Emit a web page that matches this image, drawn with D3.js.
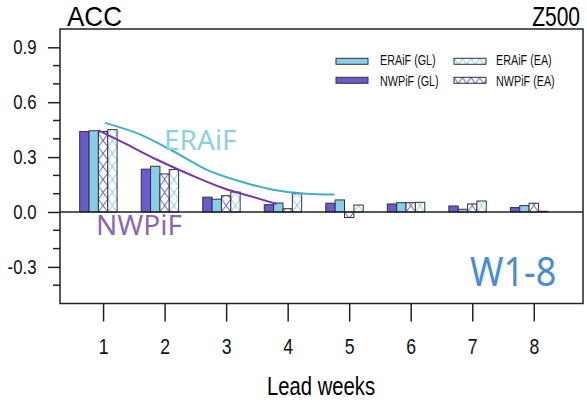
<!DOCTYPE html>
<html>
<head>
<meta charset="utf-8">
<script src="https://cdn.jsdelivr.net/npm/d3@7"></script>
<style>
  body { margin: 0; background: #fff; }
  svg { display: block; }
</style>
</head>
<body>
<svg id="chart" width="587" height="409"></svg>
<script>
// ---- data ----
var weeks = [1, 2, 3, 4, 5, 6, 7, 8];
var nwpGL = [0.44, 0.234, 0.081, 0.040, 0.048, 0.044, 0.033, 0.024];
var eraGL = [0.444, 0.250, 0.070, 0.049, 0.066, 0.051, 0.015, 0.035];
var nwpEA = [0.44, 0.208, 0.089, 0.018, -0.030, 0.051, 0.044, 0.048];
var eraEA = [0.45, 0.232, 0.109, 0.100, 0.038, 0.053, 0.060, 0.004];

// fitted curves (lead week, ACC)
var eraCurveX = [1.03, 1.6, 2.14, 2.68, 3.22, 3.76, 4.3, 4.76];
var eraCurveY = [0.487, 0.424, 0.332, 0.232, 0.168, 0.122, 0.100, 0.095];
var nwpCurveX = [0.92, 1.33, 1.87, 2.41, 2.95, 3.49, 3.82];
var nwpCurveY = [0.447, 0.379, 0.287, 0.205, 0.131, 0.077, 0.044];

var yTicks = [-0.3, 0.0, 0.3, 0.6, 0.9];
var yMinor = [-0.4, -0.2, -0.1, 0.1, 0.2, 0.4, 0.5, 0.7, 0.8];

var svg = d3.select("#chart");
var defs = svg.append("defs");

var x = d3.scaleLinear().domain([0.3, 8.8]).range([60, 583]);
var y = d3.scaleLinear().domain([-0.5, 1.0]).range([303.5, 29]);

var slate = "#6a5acd", sky = "#87ceeb";
var series = [
  { name: "NWPiF (GL)", values: nwpGL, color: slate, hatch: false },
  { name: "ERAiF (GL)", values: eraGL, color: sky, hatch: false },
  { name: "NWPiF (EA)", values: nwpEA, color: slate, hatch: true },
  { name: "ERAiF (EA)", values: eraEA, color: sky, hatch: true }
];
var barW = 0.152;          // bar width in lead-week units
var groupStart = -0.38;    // left edge of the first bar relative to the tick

var hatchH = 13;
var patId = 0;
function hatch(color, x0, y0, w) {
  var id = "hatch" + (patId++);
  var p = defs.append("pattern")
      .attr("id", id)
      .attr("patternUnits", "userSpaceOnUse")
      .attr("x", x0).attr("y", y0)
      .attr("width", w).attr("height", hatchH);
  p.append("rect").attr("width", w).attr("height", hatchH).attr("fill", "#fff");
  p.append("path")
      .attr("d", "M0,0L" + w + "," + hatchH + "M" + w + ",0L0," + hatchH)
      .attr("stroke", color).attr("stroke-width", 1).attr("fill", "none");
  return "url(#" + id + ")";
}

// condensed text: the figure's lettering is narrower than Liberation Sans
function label(tx, ty, sx, size, str, anchor) {
  return svg.append("text")
    .attr("transform", "translate(" + tx + "," + ty + ") scale(" + sx + ",1)")
    .attr("font-family", "Liberation Sans").attr("font-size", size)
    .attr("text-anchor", anchor || "start")
    .attr("fill", "#000").text(str);
}

// ---- bars ----
var bw = x(barW) - x(0);
series.forEach(function (s, i) {
  svg.append("g").selectAll("rect")
    .data(s.values)
    .enter().append("rect")
    .attr("x", function (d, j) { return x(weeks[j] + groupStart + i * barW); })
    .attr("y", function (d) { return y(Math.max(0, d)); })
    .attr("width", bw)
    .attr("height", function (d) { return Math.abs(y(d) - y(0)); })
    .attr("fill", function (d, j) {
      return s.hatch ? hatch(s.color, x(weeks[j] + groupStart + i * barW), y(0), bw) : s.color;
    })
    .attr("stroke", "#333")
    .attr("stroke-width", 1);
});

// zero line
svg.append("line")
  .attr("x1", x.range()[0]).attr("x2", x.range()[1])
  .attr("y1", y(0)).attr("y2", y(0))
  .attr("stroke", "#222").attr("stroke-width", 1.5);

// ---- curves ----
var line = d3.line().curve(d3.curveMonotoneX)
  .x(function (d) { return x(d[0]); })
  .y(function (d) { return y(d[1]); });

svg.append("path")
  .datum(d3.zip(eraCurveX, eraCurveY))
  .attr("d", line)
  .attr("fill", "none").attr("stroke", "#3eb0c8").attr("stroke-width", 2);
svg.append("path")
  .datum(d3.zip(nwpCurveX, nwpCurveY))
  .attr("d", line)
  .attr("fill", "none").attr("stroke", "#7b35a8").attr("stroke-width", 2);

// curve labels
svg.append("text").attr("x", 164).attr("y", 150)
  .attr("font-family", "Noto Sans").attr("font-size", 28)
  .attr("fill", "#8fd0e0").text("ERAiF");
svg.append("text").attr("x", 96).attr("y", 235)
  .attr("font-family", "Noto Sans").attr("font-size", 28)
  .attr("fill", "#8a68b4").text("NWPiF");
svg.append("text")
  .attr("transform", "translate(470,286) scale(0.9,1)")
  .attr("font-family", "Noto Sans").attr("font-size", 40)
  .attr("fill", "#4a8cd6").text("W1-8");

// ---- legend ----
var legendItems = [
  { s: series[1], x: 336, y: 58.3, tx: 380, ty: 65 },
  { s: series[3], x: 454, y: 58.3, tx: 496, ty: 65 },
  { s: series[0], x: 336, y: 77.3, tx: 380, ty: 85.5 },
  { s: series[2], x: 454, y: 77.3, tx: 496, ty: 85.5 }
];
legendItems.forEach(function (d) {
  svg.append("rect")
    .attr("x", d.x).attr("y", d.y).attr("width", 32).attr("height", 6)
    .attr("fill", d.s.hatch ? hatch(d.s.color, d.x, d.y, 8.5) : d.s.color)
    .attr("stroke", "#333").attr("stroke-width", 1);
  label(d.tx, d.ty, 0.72, 15, d.s.name).attr("fill", "#111");
});

// ---- axes ----
var yAxis = svg.append("g")
  .attr("transform", "translate(" + x.range()[0] + ",0)")
  .call(d3.axisLeft(y).tickValues(yTicks).tickSize(12)
    .tickFormat(function (d) { return d.toFixed(1); }));
yAxis.select(".domain").remove();
yAxis.selectAll("line").attr("stroke", "#222").attr("stroke-width", 1.5);
yAxis.selectAll("text")
  .attr("font-family", "Liberation Sans").attr("font-size", 20)
  .attr("fill", "#111")
  .attr("x", -23.5 / 0.84).attr("transform", "scale(0.84,1)");

svg.append("g")
  .attr("transform", "translate(" + x.range()[0] + ",0)")
  .selectAll("line").data(yMinor).enter().append("line")
  .attr("x1", -7).attr("x2", 0)
  .attr("y1", function (d) { return y(d); }).attr("y2", function (d) { return y(d); })
  .attr("stroke", "#222").attr("stroke-width", 1.5);

var xAxis = svg.append("g")
  .attr("transform", "translate(0," + y.range()[0] + ")")
  .call(d3.axisBottom(x).tickValues(weeks).tickSize(18).tickFormat(d3.format("d")));
xAxis.select(".domain").remove();
xAxis.selectAll("line").attr("stroke", "#222").attr("stroke-width", 1.5);
xAxis.selectAll("text")
  .attr("font-family", "Liberation Sans").attr("font-size", 22)
  .attr("fill", "#111")
  .attr("dy", null).attr("y", 51).attr("transform", "scale(0.8,1)");

// frame
svg.append("rect")
  .attr("x", x.range()[0]).attr("y", y.range()[1])
  .attr("width", x.range()[1] - x.range()[0])
  .attr("height", y.range()[0] - y.range()[1])
  .attr("fill", "none").attr("stroke", "#222").attr("stroke-width", 1.5);

// titles
label(67, 26, 0.93, 28, "ACC");
label(580, 26, 0.75, 28, "Z500", "end");
label(321, 395, 0.81, 25, "Lead weeks", "middle");
</script>
</body>
</html>
